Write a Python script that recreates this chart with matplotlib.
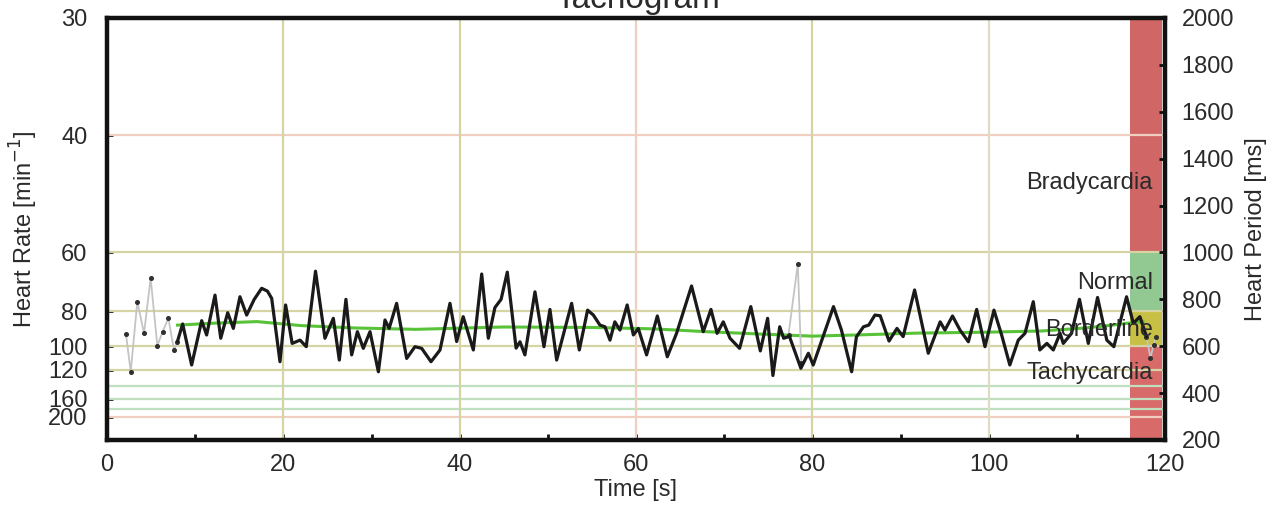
import numpy as np
import matplotlib
matplotlib.use("Agg")
import matplotlib.pyplot as plt

plt.rcParams['font.family'] = ['Liberation Sans', 'DejaVu Sans']

# ---------------- data ----------------
# artefact (grey) segments: time [s], period [ms]
gray1_t = [2.15, 2.69, 3.44, 4.2, 4.95, 5.71, 6.31, 6.96, 7.6, 7.98]
gray1_ms = [652, 491, 790, 655, 890, 602, 662, 719, 584, 619]
gray2_t = [77.3, 78.35, 78.75]
gray2_ms = [650, 951, 530]
gray3_t = [117.9, 118.35, 118.7, 119.0]
gray3_ms = [641, 550, 605, 641]

# tachogram (black)
beat_t = [7.98, 8.58, 9.6, 10.74, 11.3, 12.25, 12.9, 13.69, 14.33, 15.08, 15.84, 16.7,
          17.54, 18.2, 18.68, 19.62, 20.26, 21.0, 21.9, 22.6, 23.65, 24.72, 25.67,
          26.35, 27.1, 27.75, 28.4, 29.07, 29.83, 30.78, 31.53, 32.0, 32.85, 33.99,
          34.93, 35.69, 36.75, 37.77, 38.9, 39.66, 40.4, 41.55, 42.5, 43.25, 44.0,
          44.7, 45.4, 46.4, 46.84, 47.4, 48.54, 49.56, 50.24, 51.0, 52.7, 53.57,
          54.51, 55.16, 55.91, 56.48, 57.05, 57.6, 58.18, 59.0, 59.7, 60.26, 61.2,
          62.42, 63.55, 64.6, 66.3, 67.63, 68.5, 69.2, 69.9, 70.66, 71.75, 73.02,
          74.1, 74.93, 75.53, 76.3, 76.75, 77.4, 78.7, 79.55, 80.1, 82.4, 83.3,
          84.46, 85.0, 85.8, 86.4, 87.1, 87.7, 88.7, 89.6, 90.3, 91.6, 93.15, 94.5,
          95.04, 95.9, 96.75, 97.7, 98.64, 99.58, 100.6, 101.47, 102.4, 103.36,
          104.12, 105.06, 105.8, 106.6, 107.33, 108.1, 108.46, 109.4, 110.3, 111.3,
          112.35, 113.4, 114.2, 115.64, 116.4, 117.15, 117.9]
beat_ms = [619, 695, 520, 709, 648, 818, 634, 743, 676, 811, 733, 800,
           847, 835, 804, 534, 776, 612, 626, 598, 920, 634, 719,
           541, 800, 563, 662, 591, 662, 491, 712, 676, 783, 548,
           598, 591, 534, 584, 783, 620, 726, 584, 908, 634, 765,
           800, 916, 592, 619, 563, 832, 598, 757, 541, 783, 584,
           754, 733, 690, 683, 626, 704, 669, 776, 648, 676, 563,
           729, 555, 655, 857, 662, 757, 655, 704, 634, 591, 769,
           580, 719, 475, 683, 634, 642, 506, 570, 520, 769, 669,
           491, 640, 683, 690, 733, 730, 622, 676, 641, 840, 570, 704,
           669, 729, 669, 619, 757, 598, 754, 648, 520, 626,
           655, 790, 584, 612, 584, 655, 612, 655, 800, 612,
           808, 626, 598, 811, 698, 726, 641]

# trend (green)
trend_t = [8, 12, 17, 22, 28, 35, 45, 55, 62, 68, 74, 80, 85, 92, 100, 106, 111, 114, 117.5]
trend_ms = [690, 698, 705, 688, 678, 672, 682, 680, 674, 662, 652, 643, 648, 656, 660, 665, 678, 690, 706]

# zones
zone_names = ['Bradycardia', 'Normal', 'Borderline', 'Tachycardia']
zone_low = [1000, 750, 600, 200]
zone_high = [2000, 1000, 750, 600]
zone_label_ms = [1296, 868, 669, 484]
zone_colors = ['#d06666', '#92c892', '#c8c044', '#d86a6a']

hr_ticks = [30, 40, 60, 80, 100, 120, 160, 200]
hr_grid = [40, 60, 80, 100, 120, 140, 160, 180, 200]
hr_grid_colors = ['#f0cfc0', '#d6d3a4', '#d6d3a4', '#d6d3a4', '#d6d3a4',
                  '#bfdfbf', '#bfdfbf', '#bfdfbf', '#f0cfc0']
time_grid = [20, 40, 60, 80, 100]
time_grid_colors = ['#d6d3a4', '#d6d3a4', '#f0cfc0', '#d6d3a4', '#e0dcc4']
period_ticks = [200, 400, 600, 800, 1000, 1200, 1400, 1600, 1800, 2000]

# ---------------- figure ----------------
fig = plt.figure(figsize=(12.84, 5.08), dpi=100)
ax = fig.add_axes([107/1284, 68/508, (1165-107)/1284, (440-18)/508])
ax.set_xlim(0, 120)
ax.set_ylim(200, 2000)

FS = 17
TXT = '#2a2a2a'

# zone bars
ax.bar([116.0]*4, np.array(zone_high) - np.array(zone_low), width=3.7,
       bottom=zone_low, align='edge', color=zone_colors, zorder=1, linewidth=0)

# grid
for hr, c in zip(hr_grid, hr_grid_colors):
    ax.axhline(60000.0/hr, color=c, lw=1.6, zorder=2)
for t, c in zip(time_grid, time_grid_colors):
    ax.axvline(t, color=c, lw=1.6, zorder=2)

# trend
ax.plot(trend_t, trend_ms, color='#58c238', lw=2.2, zorder=3)

# artefacts
for gt, gm in [(gray1_t, gray1_ms), (gray2_t, gray2_ms), (gray3_t, gray3_ms)]:
    ax.plot(gt, gm, color='#c4c4c4', lw=1.3, zorder=4)
    ax.plot(gt, gm, ls='none', marker='o', ms=2.6, color='#303030', zorder=5)

# tachogram
ax.plot(beat_t, beat_ms, color='#1a1a1a', lw=2.3, zorder=6,
        solid_joinstyle='round', solid_capstyle='round')

# zone labels
for name, ms in zip(zone_names, zone_label_ms):
    ax.text(118.6, ms, name, ha='right', va='center', fontsize=FS, color=TXT, zorder=7)

# axes styling
for s in ax.spines.values():
    s.set_linewidth(3.2)
    s.set_color('#111111')
    s.set_zorder(10)

ax.set_yticks([60000.0/h for h in hr_ticks])
ax.set_yticklabels([str(h) for h in hr_ticks])
ax.set_xticks([0, 20, 40, 60, 80, 100, 120])
ax.set_xticks([10, 30, 50, 70, 90, 110], minor=True)
ax.tick_params(axis='both', which='both', direction='in', length=4, width=2,
               colors='#111111', labelcolor=TXT, labelsize=FS)
ax.tick_params(axis='y', pad=14)
ax.tick_params(axis='x', pad=10)

ax2 = ax.twinx()
ax2.set_ylim(200, 2000)
ax2.set_yticks(period_ticks)
ax2.tick_params(axis='y', direction='in', length=4, width=2, colors='#111111',
                labelcolor=TXT, labelsize=FS, pad=12)
for s in ax2.spines.values():
    s.set_visible(False)

ax.set_xlabel('Time [s]', fontsize=FS, color=TXT, labelpad=2)
ax.set_ylabel('Heart Rate [min$^{-1}$]', fontsize=FS, color=TXT, labelpad=6)
ax2.set_ylabel('Heart Period [ms]', fontsize=FS, color=TXT, labelpad=8)

fig.text(0.497, 0.984, 'Tachogram', ha='center', va='baseline', fontsize=24, color=TXT)

fig.savefig('out.png', dpi=100)
